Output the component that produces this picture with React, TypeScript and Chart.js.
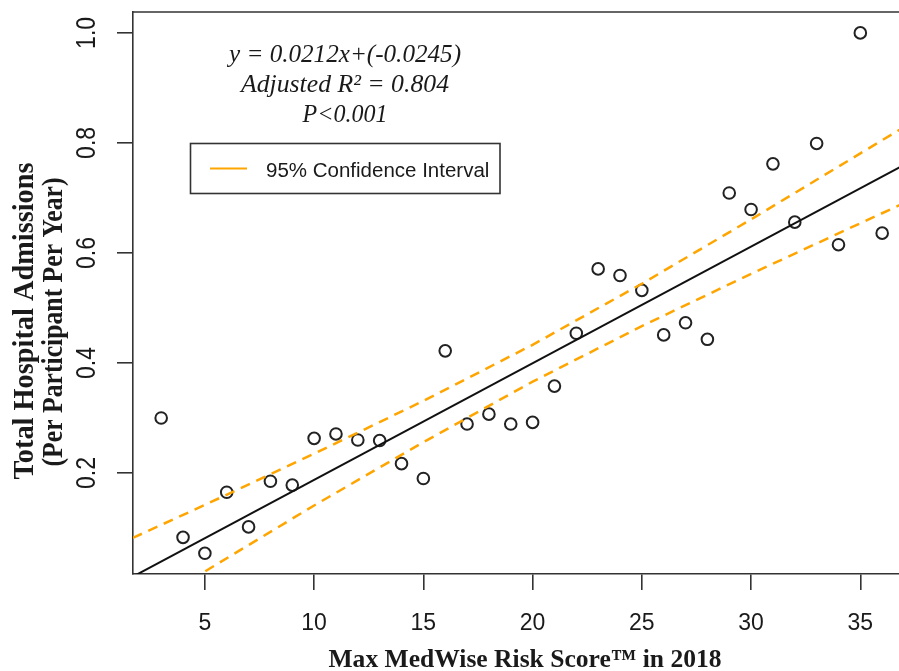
import React, { useEffect, useRef } from 'react';
import { Chart, registerables } from 'chart.js';

Chart.register(...registerables);

// ---- Data ----
const riskScores = [3, 4, 5, 6, 7, 8, 9, 10, 11, 12, 13, 14, 15, 16, 17, 18, 19, 20, 21, 22, 23, 24, 25, 26, 27, 28, 29, 30, 31, 32, 33, 34, 35, 36];
const admissions = [0.300, 0.083, 0.054, 0.165, 0.102, 0.185, 0.178, 0.263, 0.271, 0.260, 0.259, 0.217, 0.190, 0.422, 0.289, 0.307, 0.289, 0.292, 0.358, 0.454, 0.571, 0.559, 0.532, 0.451, 0.473, 0.443, 0.709, 0.679, 0.762, 0.656, 0.799, 0.615, 1.000, 0.636];

// fitted regression line (read at both ends of the plot)
const fitX = [1.7, 37.3];
const fitY = [0.0115, 0.7663];

// 95% confidence band
const ciX = [1.7, 5, 10, 15, 20, 25, 30, 35, 37.3];
const ciUpper = [0.082, 0.142, 0.235, 0.331, 0.433, 0.544, 0.661, 0.781, 0.836];
const ciLower = [-0.059, 0.021, 0.141, 0.256, 0.366, 0.467, 0.562, 0.654, 0.696];

const xTicks = [5, 10, 15, 20, 25, 30, 35];
const yTicks = [0.2, 0.4, 0.6, 0.8, 1.0];
const yTickLabels = ['0.2', '0.4', '0.6', '0.8', '1.0'];

const xTitle = 'Max MedWise Risk Score\u2122 in 2018';
const yTitleLines = ['Total Hospital Admissions', '(Per Participant Per Year)'];
const annotationLines = ['y = 0.0212x+(-0.0245)', 'Adjusted R\u00B2 = 0.804', 'P<0.001'];
const legendLabel = '95% Confidence Interval';

const ORANGE = '#FFA500';
const INK = '#1a1a1a';
const AXIS = '#333333';

function fitText(ctx: CanvasRenderingContext2D, text: string, target: number) {
  const w = ctx.measureText(text).width;
  return w > 0 ? target / w : 1;
}

const decorPlugin = {
  id: 'decor',
  beforeDraw(chart: any) {
    const ctx = chart.ctx as CanvasRenderingContext2D;
    ctx.save();
    ctx.fillStyle = '#ffffff';
    ctx.fillRect(0, 0, chart.width, chart.height);
    ctx.restore();
  },
  afterDraw(chart: any) {
    const ctx = chart.ctx as CanvasRenderingContext2D;
    const area = chart.chartArea;
    const yScale = chart.scales.y;
    ctx.save();

    // top border of the plot box
    ctx.strokeStyle = AXIS;
    ctx.lineWidth = 1.6;
    ctx.beginPath();
    ctx.moveTo(area.left, area.top);
    ctx.lineTo(chart.width, area.top);
    ctx.stroke();

    // y tick labels, parallel to the axis
    ctx.fillStyle = INK;
    ctx.font = '23px "Liberation Sans", Arial, sans-serif';
    ctx.textAlign = 'center';
    ctx.textBaseline = 'middle';
    yTicks.forEach((v, i) => {
      const py = yScale.getPixelForValue(v);
      ctx.save();
      ctx.translate(87, py);
      ctx.rotate(-Math.PI / 2);
      ctx.scale(1, 1.2);
      ctx.fillText(yTickLabels[i], 0, 0);
      ctx.restore();
    });

    // y title (two lines)
    ctx.font = 'bold 26px "Liberation Serif", "Times New Roman", serif';
    ctx.textBaseline = 'alphabetic';
    const yTitlePos = [
      { x: 33, y: 321, len: 317 },
      { x: 62, y: 322, len: 289 },
    ];
    yTitleLines.forEach((line, i) => {
      const p = yTitlePos[i];
      const sx = fitText(ctx, line, p.len);
      ctx.save();
      ctx.translate(p.x, p.y);
      ctx.rotate(-Math.PI / 2);
      ctx.scale(sx, 1.15);
      ctx.fillText(line, 0, 0);
      ctx.restore();
    });

    // x title
    ctx.font = 'bold 25.5px "Liberation Serif", "Times New Roman", serif';
    {
      const sx = fitText(ctx, xTitle, 393);
      ctx.save();
      ctx.translate(525, 667);
      ctx.scale(sx, 1);
      ctx.fillText(xTitle, 0, 0);
      ctx.restore();
    }

    // annotation
    ctx.font = 'italic 25.5px "Liberation Serif", "Times New Roman", serif';
    const annY = [62, 92, 122];
    const annW = [232, 208, 85];
    annotationLines.forEach((line, i) => {
      const sx = fitText(ctx, line, annW[i]);
      ctx.save();
      ctx.translate(345, annY[i]);
      ctx.scale(sx, 1);
      ctx.fillText(line, 0, 0);
      ctx.restore();
    });

    // legend box
    ctx.strokeStyle = AXIS;
    ctx.lineWidth = 1.6;
    ctx.strokeRect(190.5, 143.5, 309.5, 50);
    ctx.strokeStyle = ORANGE;
    ctx.lineWidth = 1.8;
    ctx.beginPath();
    ctx.moveTo(210, 168.5);
    ctx.lineTo(247, 168.5);
    ctx.stroke();
    ctx.fillStyle = INK;
    ctx.font = '20.5px "Liberation Sans", Arial, sans-serif';
    ctx.textAlign = 'left';
    ctx.textBaseline = 'alphabetic';
    ctx.fillText(legendLabel, 266, 177);

    ctx.restore();
  },
};

export default function App() {
  const canvasRef = useRef<HTMLCanvasElement | null>(null);

  useEffect(() => {
    const canvas = canvasRef.current;
    if (!canvas) return;
    const chart = new Chart(canvas, {
      type: 'scatter',
      data: {
        datasets: [
          {
            label: 'Upper 95% CI',
            type: 'line',
            data: ciX.map((x, i) => ({ x, y: ciUpper[i] })),
            borderColor: ORANGE,
            borderWidth: 2.5,
            borderDash: [10, 7],
            pointRadius: 0,
            fill: false,
            tension: 0,
          },
          {
            label: 'Lower 95% CI',
            type: 'line',
            data: ciX.map((x, i) => ({ x, y: ciLower[i] })),
            borderColor: ORANGE,
            borderWidth: 2.5,
            borderDash: [10, 7],
            pointRadius: 0,
            fill: false,
            tension: 0,
          },
          {
            label: 'Fit',
            type: 'line',
            data: fitX.map((x, i) => ({ x, y: fitY[i] })),
            borderColor: '#111111',
            borderWidth: 2,
            pointRadius: 0,
            fill: false,
          },
          {
            label: 'Observed',
            data: riskScores.map((x, i) => ({ x, y: admissions[i] })),
            showLine: false,
            pointStyle: 'circle',
            pointRadius: 5.8,
            pointBorderWidth: 2,
            pointBackgroundColor: 'rgba(0,0,0,0)',
            pointBorderColor: '#222222',
          },
        ],
      },
      options: {
        responsive: false,
        animation: false,
        devicePixelRatio: 1,
        layout: { autoPadding: false, padding: { top: 12, right: 0, bottom: 0, left: 0 } },
        plugins: {
          legend: { display: false },
          tooltip: { enabled: false },
          title: { display: false },
        },
        scales: {
          x: {
            type: 'linear',
            position: 'bottom',
            min: 1.71,
            max: 36.77,
            afterBuildTicks: (s: any) => {
              s.ticks = xTicks.map((v) => ({ value: v }));
            },
            afterFit: (s: any) => {
              s.height = 97;
              s.paddingLeft = 0;
              s.paddingRight = 0;
            },
            grid: {
              drawOnChartArea: false,
              drawTicks: true,
              tickLength: 16,
              color: AXIS,
              lineWidth: 1.6,
            },
            border: { display: true, color: AXIS, width: 1.6 },
            ticks: {
              font: { family: '"Liberation Sans", Arial, sans-serif', size: 23 },
              color: INK,
              padding: 20,
              maxRotation: 0,
              minRotation: 0,
              autoSkip: false,
              callback: (v: any) => String(v),
            },
          },
          y: {
            type: 'linear',
            min: 0.0164,
            max: 1.038,
            afterBuildTicks: (s: any) => {
              s.ticks = yTicks.map((v) => ({ value: v }));
            },
            afterFit: (s: any) => {
              s.width = 133;
              s.paddingTop = 0;
              s.paddingBottom = 0;
            },
            grid: {
              drawOnChartArea: false,
              drawTicks: true,
              tickLength: 16,
              color: AXIS,
              lineWidth: 1.6,
            },
            border: { display: true, color: AXIS, width: 1.6 },
            ticks: { display: false },
          },
        },
      },
      plugins: [decorPlugin],
    } as any);
    return () => chart.destroy();
  }, []);

  return (
    <div style={{ position: 'absolute', left: 0, top: 0, width: 899, height: 671, background: '#fff' }}>
      <canvas ref={canvasRef} width={899} height={671} style={{ display: 'block', width: 899, height: 671 }} />
    </div>
  );
}
